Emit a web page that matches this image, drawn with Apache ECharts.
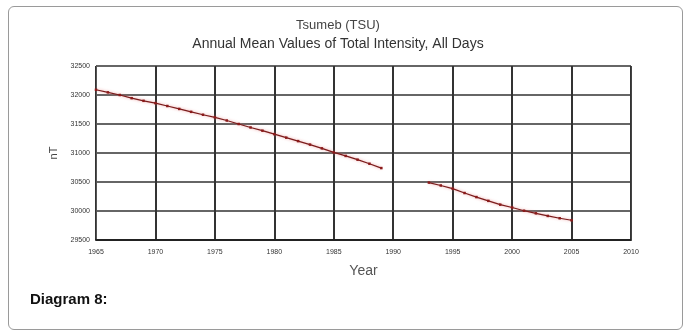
<!DOCTYPE html>
<html>
<head>
<meta charset="utf-8">
<script src="https://cdn.jsdelivr.net/npm/echarts@6/dist/echarts.min.js"></script>
<style>
  html, body { margin: 0; padding: 0; background: #fff; }
  #frame { position: absolute; left: 8px; top: 6px; width: 673px; height: 322px;
           border: 1px solid #9a9a9a; border-radius: 6px; }
  #chart { position: absolute; left: 0; top: 0; width: 689px; height: 334px; }
</style>
</head>
<body>
<div id="frame"></div>
<div id="chart"></div>
<script>
// years and annual mean total intensity (nT), gap 1990-1992
let years = [];
for (let y = 1965; y <= 2005; y++) years.push(y);
let intensity = [
  32090, 32045, 32000, 31945, 31900, 31860, 31810, 31760, 31710, 31660,
  31615, 31560, 31500, 31440, 31385, 31325, 31265, 31205, 31145, 31080,
  31010, 30950, 30885, 30815, 30740, null, null, null, 30490, 30440,
  30385, 30310, 30240, 30175, 30110, 30060, 30005, 29960, 29915, 29875,
  29840
];
let xTicks = [1965, 1970, 1975, 1980, 1985, 1990, 1995, 2000, 2005, 2010];
let yTicks = [29500, 30000, 30500, 31000, 31500, 32000, 32500];

let chart = echarts.init(document.getElementById('chart'));

let seriesData = years.map((y, i) => [y, intensity[i]]);

let option = {
  animation: false,
  title: {
    text: 'Tsumeb (TSU)',
    subtext: 'Annual Mean Values of Total Intensity, All Days',
    left: 333, top: 14, textAlign: 'center', itemGap: 5,
    textStyle: { fontFamily: 'Liberation Sans', fontSize: 13, fontWeight: 'normal', color: '#444' },
    subtextStyle: { fontFamily: 'Liberation Sans', fontSize: 14, color: '#333' }
  },
  grid: { left: 96, right: 58, top: 66, bottom: 94 },
  xAxis: {
    type: 'value', min: 1965, max: 2010, interval: 5,
    name: 'Year', nameLocation: 'middle', nameGap: 24,
    nameTextStyle: { fontFamily: 'Liberation Sans', fontSize: 14, color: '#555' },
    axisLine: { lineStyle: { color: '#222', width: 2 } },
    axisTick: { show: false },
    axisLabel: { fontFamily: 'Liberation Sans', fontSize: 7, color: '#333', margin: 9,
      formatter: v => xTicks.indexOf(v) >= 0 ? String(v) : '' },
    splitLine: { show: true, lineStyle: { color: '#333', width: 2 } }
  },
  yAxis: {
    type: 'value', min: 29500, max: 32500, interval: 500,
    name: 'nT', nameLocation: 'middle', nameGap: 27, nameRotate: 90,
    nameTextStyle: { fontFamily: 'Liberation Sans', fontSize: 11, color: '#444' },
    axisLine: { show: true, lineStyle: { color: '#555', width: 1 } },
    axisTick: { show: false },
    axisLabel: { fontFamily: 'Liberation Sans', fontSize: 7, color: '#333', margin: 6,
      formatter: v => yTicks.indexOf(v) >= 0 ? String(v) : '' },
    splitLine: { show: true, lineStyle: { color: '#666', width: 2 } }
  },
  series: [{
    type: 'line',
    data: seriesData,
    connectNulls: false,
    symbol: 'rect', symbolSize: 2.5,
    itemStyle: { color: '#8b1a1a' },
    lineStyle: { color: '#7a1c1c', width: 1.2, shadowColor: 'rgba(230,120,120,0.8)', shadowBlur: 3 }
  }],
  graphic: [{
    type: 'rect', shape: { x: 631, y: 66, width: 1, height: 174 },
    style: { fill: '#444' }, z: 5
  }, {
    type: 'text', left: 30, top: 292,
    style: { text: 'Diagram 8:', fontFamily: 'Liberation Sans', fontSize: 15, fontWeight: 'bold', fill: '#111' }
  }]
};

chart.setOption(option);
</script>
</body>
</html>
